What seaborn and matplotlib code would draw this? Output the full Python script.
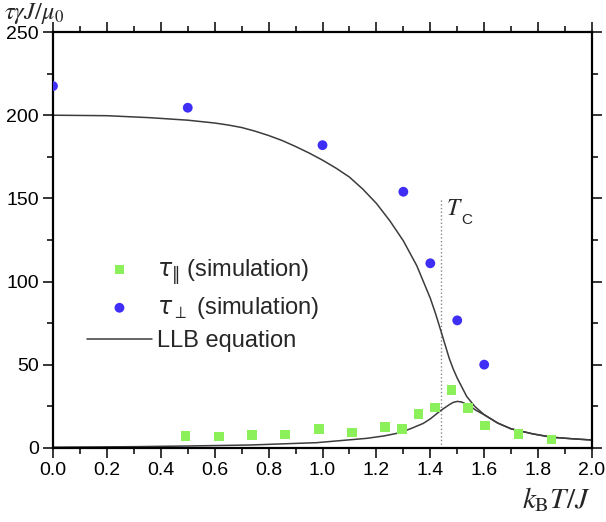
import numpy as np
import pandas as pd
import matplotlib
matplotlib.use("Agg")
import matplotlib.pyplot as plt
import seaborn as sns
from matplotlib.ticker import MultipleLocator
from matplotlib.font_manager import FontProperties

# ---- data ----
perp_sim_x = [0.0, 0.5, 1.0, 1.3, 1.4, 1.5, 1.6]
perp_sim_y = [217.5, 204.5, 182.0, 154.0, 111.0, 76.7, 50.1]

par_sim_x = [0.492, 0.616, 0.738, 0.862, 0.987, 1.109, 1.233, 1.294, 1.356,
             1.417, 1.479, 1.541, 1.603, 1.727, 1.850]
par_sim_y = [7.2, 6.8, 7.8, 8.2, 11.4, 9.4, 12.5, 11.4, 20.4,
             24.4, 35.0, 24.2, 13.6, 8.4, 5.2]

llb_perp_x = [0.0, 0.2, 0.36, 0.5, 0.6, 0.65, 0.7, 0.75, 0.8, 0.85, 0.9,
              0.95, 1.0, 1.05, 1.1, 1.15, 1.2, 1.25, 1.3, 1.35, 1.4, 1.42,
              1.44, 1.455, 1.47, 1.485, 1.50, 1.535, 1.565, 1.60, 1.65,
              1.70, 1.78, 1.85, 1.93, 2.0]
llb_perp_y = [200.0, 199.7, 198.5, 197.0, 195.3, 194.1, 192.6, 190.4, 187.8,
              184.8, 181.2, 177.3, 173.0, 168.2, 162.8, 155.5, 147.0, 136.5,
              124.5, 109.5, 90.0, 80.5, 70.0, 62.0, 54.0, 47.5, 42.0, 31.0,
              25.0, 20.0, 15.0, 11.5, 8.5, 6.5, 5.5, 4.8]

llb_par_x = [0.0, 0.3, 0.5, 0.731, 0.978, 1.164, 1.23, 1.288, 1.33, 1.374,
             1.40, 1.436, 1.47, 1.485, 1.50, 1.515, 1.53, 1.547, 1.57, 1.60,
             1.65, 1.70, 1.78, 1.85, 1.93, 2.0]
llb_par_y = [0.5, 0.8, 1.2, 1.8, 3.2, 5.8, 7.3, 9.2, 11.8, 14.8,
             17.5, 22.2, 26.0, 27.4, 28.0, 27.7, 26.6, 25.2, 22.6, 20.0,
             15.0, 11.5, 8.5, 6.5, 5.5, 4.8]

tc_x = 1.438
tc_top = 150

xticks = [0.0, 0.2, 0.4, 0.6, 0.8, 1.0, 1.2, 1.4, 1.6, 1.8, 2.0]
yticks = [0, 50, 100, 150, 200, 250]

lab_par = r'$\tau_{\Vert}$ (simulation)'
lab_perp = r'$\tau_{\perp}$ (simulation)'
lab_llb = 'LLB equation'

# ---- styling ----
sns.set_style("ticks")
plt.rcParams['font.family'] = ['Liberation Sans', 'DejaVu Sans']
plt.rcParams['mathtext.fontset'] = 'stix'

fig = plt.figure(figsize=(6.06, 5.22), dpi=100)
ax = fig.add_axes([53/606, 1-448/522, (592-53)/606, (448-32)/522])

green = '#8cf05a'
blue = '#3f2ef5'
lc = '#3c3c3c'

ax.plot([tc_x, tc_x], [0, tc_top], ls=':', color='#888888', lw=1.0, zorder=1)

sns.lineplot(x=llb_perp_x, y=llb_perp_y, ax=ax, color=lc, lw=1.1,
             sort=False, estimator=None, label=lab_llb, zorder=2)
sns.lineplot(x=llb_par_x, y=llb_par_y, ax=ax, color=lc, lw=1.1,
             sort=False, estimator=None, zorder=2)
sns.scatterplot(x=par_sim_x, y=par_sim_y, ax=ax, marker='s', s=48,
                color=green, edgecolor='none', zorder=3, label=lab_par)
sns.scatterplot(x=perp_sim_x, y=perp_sim_y, ax=ax, marker='o', s=50,
                color=blue, edgecolor='none', zorder=3, label=lab_perp)

ax.set_xlim(0, 2.0)
ax.set_ylim(0, 250)
ax.set_xticks(xticks)
ax.set_xticklabels([f"{t:.1f}" for t in xticks])
ax.set_yticks(yticks)
ax.set_yticklabels([str(t) for t in yticks])
ax.xaxis.set_minor_locator(MultipleLocator(0.1))
ax.yaxis.set_minor_locator(MultipleLocator(25))
ax.tick_params(which='both', direction='out', top=True, right=True,
               labeltop=False, labelright=False, colors='black', width=1.1)
ax.tick_params(which='major', length=7, labelsize=14, pad=3)
ax.tick_params(which='minor', length=4)
for sp in ax.spines.values():
    sp.set_visible(True)
    sp.set_linewidth(1.6)
    sp.set_color('black')
ax.set_xlabel('')
ax.set_ylabel('')

handles, labels = ax.get_legend_handles_labels()
order = [labels.index(l) for l in [lab_par, lab_perp, lab_llb]]
legprop = FontProperties(family='Liberation Sans', size=17,
                         math_fontfamily='dejavusans')
leg = ax.legend([handles[i] for i in order], [labels[i] for i in order],
                loc='upper left', bbox_to_anchor=(87/606, 1-257/522),
                bbox_transform=fig.transFigure, frameon=False, prop=legprop,
                borderpad=0, borderaxespad=0, handlelength=2.75,
                handletextpad=0.2, labelspacing=0.38)

ax.text(tc_x + 0.02, 150, r'$T$', fontsize=17, va='top', ha='left')
ax.text(tc_x + 0.075, 141, 'C', fontsize=11, va='top', ha='left')

fig.text(4/606, 1-19/522, r'$\tau\gamma J/\mu_{\mathrm{0}}$', fontsize=17.5,
         ha='left', va='baseline')
fig.text(590/606, 1-508/522, r'$k_{\mathrm{B}}T/J$', fontsize=21,
         ha='right', va='baseline')

fig.savefig('out.png', dpi=100)
